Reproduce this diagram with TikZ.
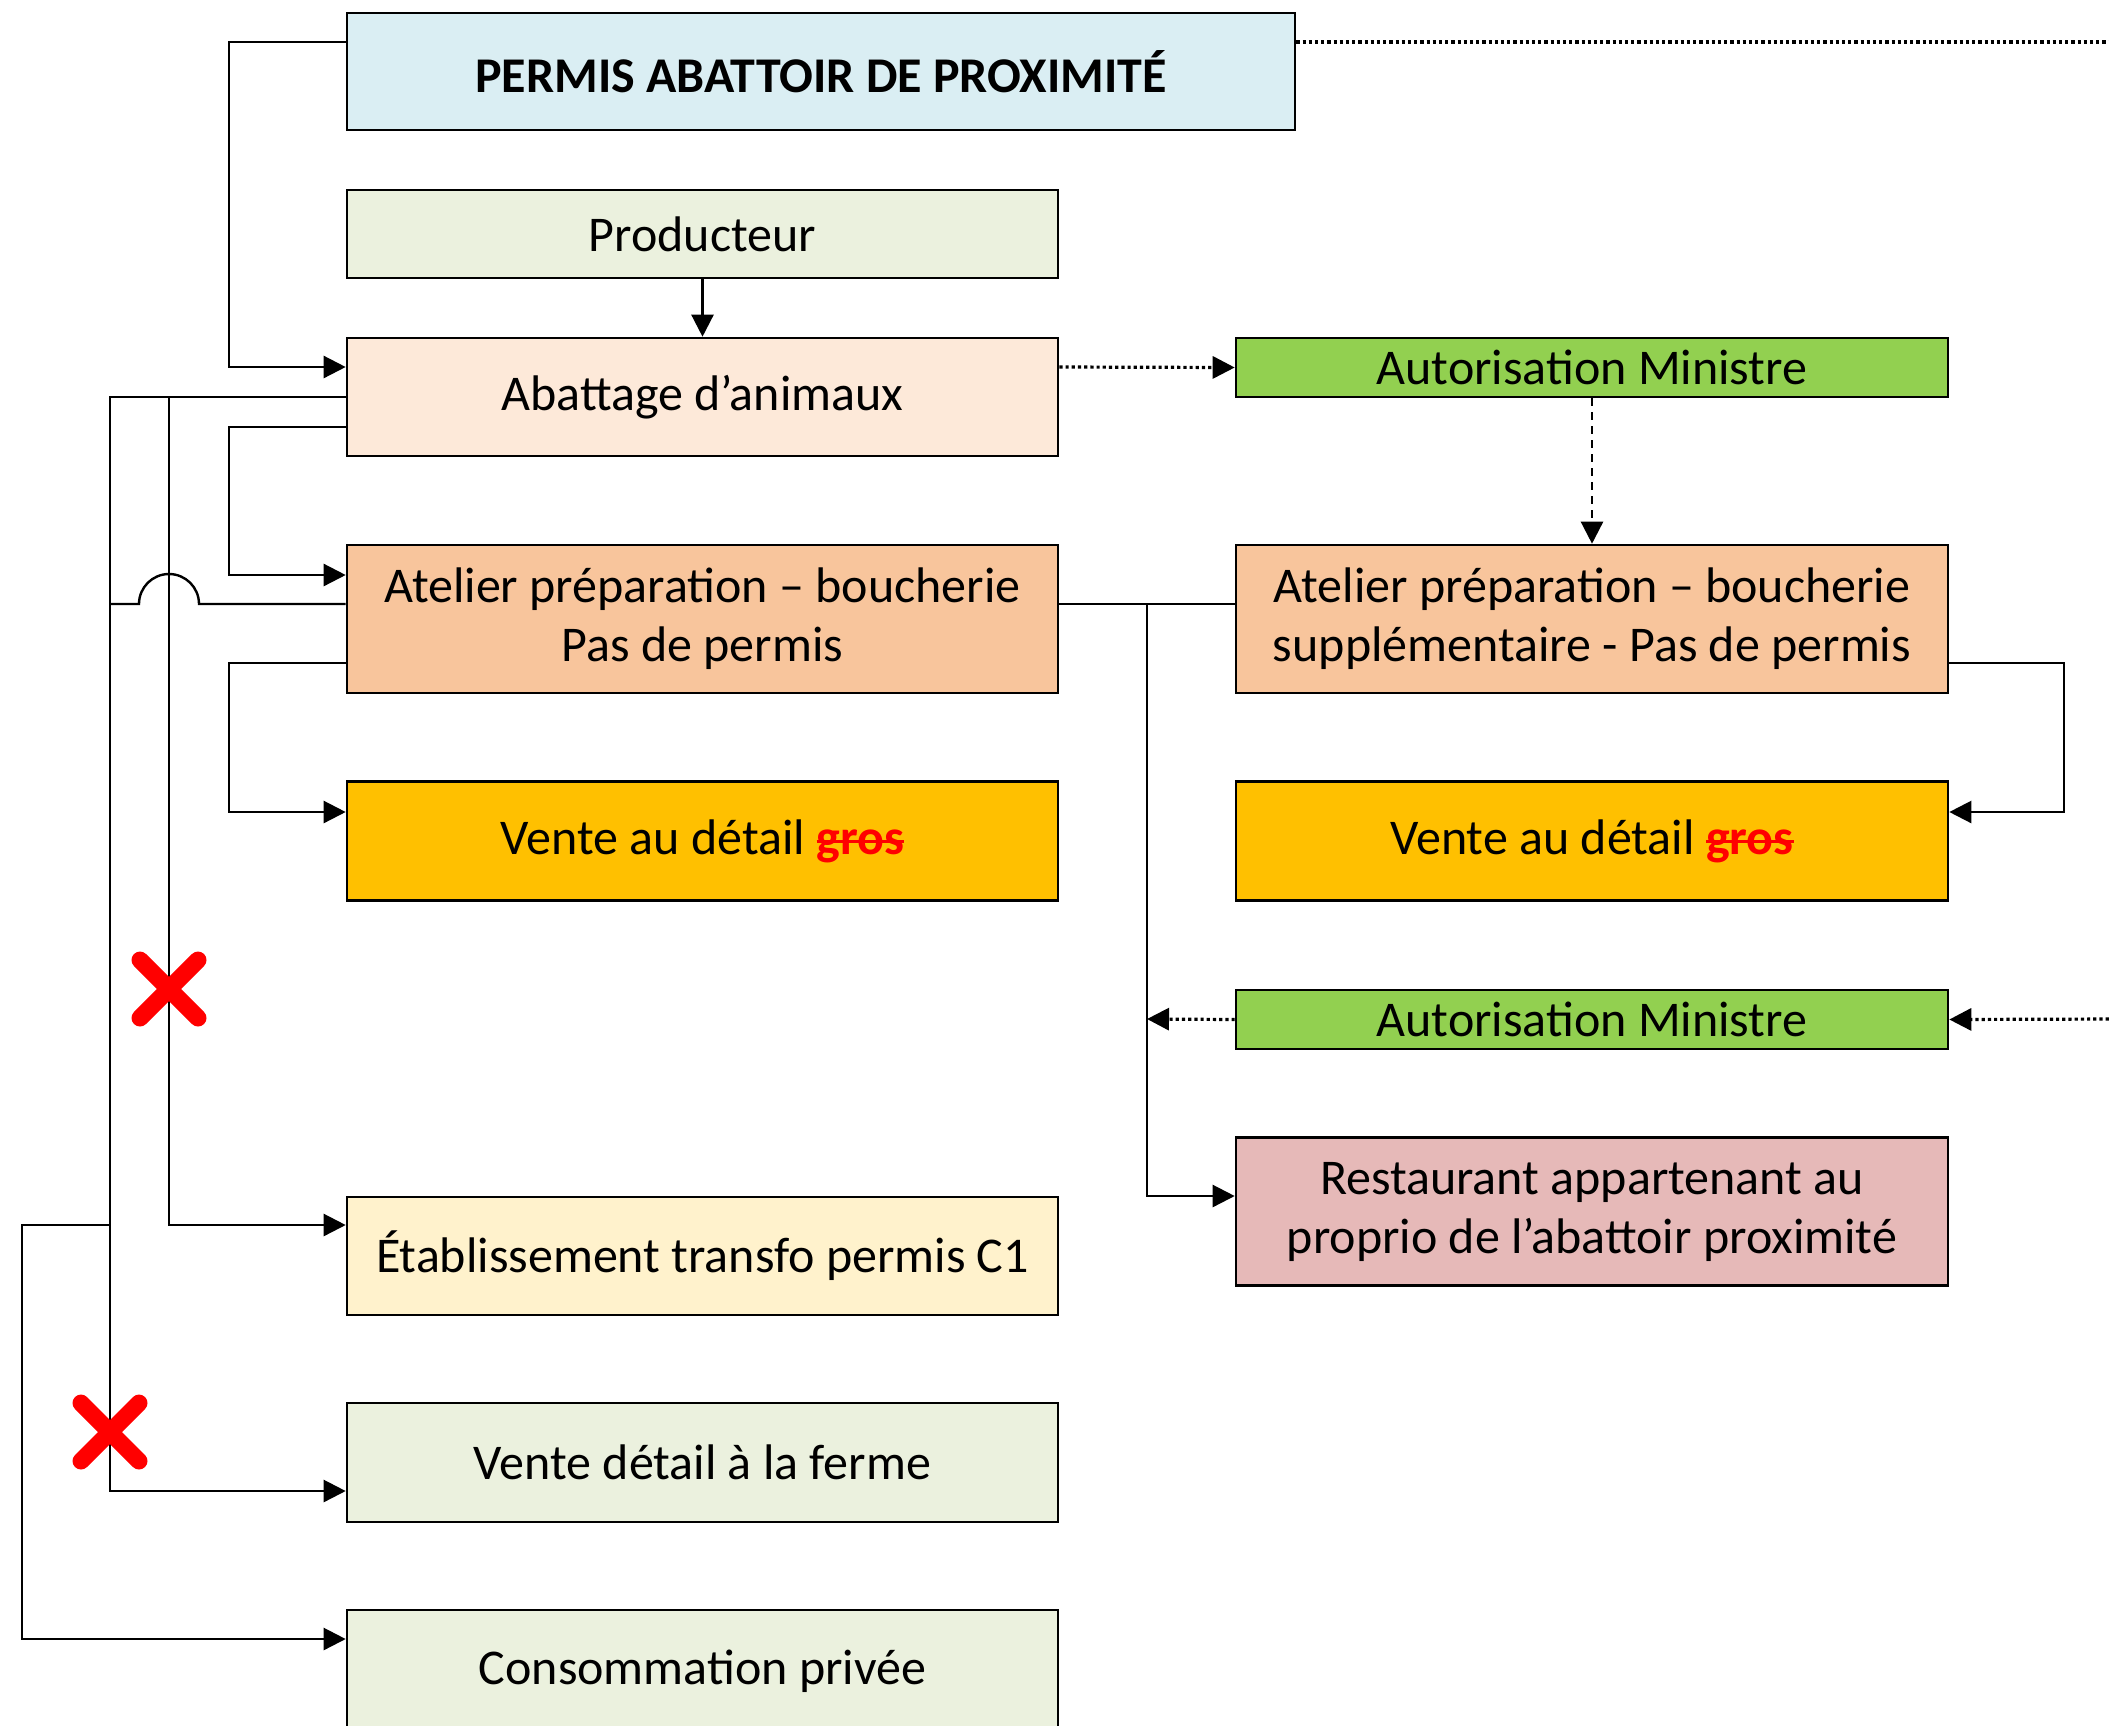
\documentclass[tikz,border=0pt]{standalone}
\usepackage{fontspec}
\setmainfont{Carlito}
\usetikzlibrary{arrows.meta}
\definecolor{cPermis}{HTML}{DAEEF3}
\definecolor{cGreenL}{HTML}{EBF1DE}
\definecolor{cAbat}{HTML}{FDE9D9}
\definecolor{cAtel}{HTML}{F8C59C}
\definecolor{cVente}{HTML}{FFC000}
\definecolor{cAut}{HTML}{92D050}
\definecolor{cEtab}{HTML}{FFF2CC}
\definecolor{cResto}{HTML}{E6B9B8}
\newcommand{\grosbarre}{{\color{red}\bfseries\setbox0\hbox{gros}\rlap{\rule[0.22em]{\wd0}{1.4pt}}\box0}}
\begin{document}
\begin{tikzpicture}[x=0.5pt,y=-0.5pt,
  box/.style={draw, line width=1.3pt, inner sep=0pt, align=center,
    font=\fontsize{25}{29.5}\selectfont, anchor=center},
  lcol/.style={box, minimum width=355.5pt},
  rcol/.style={box, minimum width=356pt},
  conn/.style={line width=1.2pt},
  arr/.style={conn, -{Triangle[length=11pt,width=11pt]}},
  dotl/.style={line width=1.6pt, dash pattern=on 1.6pt off 1.5pt},
  dashl/.style={conn, dash pattern=on 4pt off 3pt},
  xmark/.style={red, line width=8.5pt, line cap=round}]
\useasboundingbox (0,0) rectangle (2109,1725);

% nodes
\node[box, minimum width=474pt, minimum height=58.5pt, fill=cPermis, font=\fontsize{25}{29.5}\selectfont\bfseries] (permis) at (821,71.5) {PERMIS ABATTOIR DE PROXIMITÉ};
\node[lcol, minimum height=44pt, fill=cGreenL] (prod) at (702.5,234) {Producteur};
\node[lcol, minimum height=59pt, fill=cAbat] (abat) at (702.5,397) {Abattage d’animaux};
\node[rcol, minimum height=29.5pt, fill=cAut] (aut1) at (1592,367.5) {Autorisation Ministre};
\node[lcol, minimum height=74pt, fill=cAtel] (atel) at (702.5,619) {Atelier préparation – boucherie\\Pas de permis};
\node[rcol, minimum height=74pt, fill=cAtel] (atel2) at (1592,619) {Atelier préparation – boucherie\\supplémentaire - Pas de permis};
\node[lcol, minimum height=59.5pt, fill=cVente] (vente) at (702.5,841) {Vente au détail \grosbarre};
\node[rcol, minimum height=59.5pt, fill=cVente] (vente2) at (1592,841) {Vente au détail \grosbarre};
\node[rcol, minimum height=29.5pt, fill=cAut] (aut2) at (1592,1019.5) {Autorisation Ministre};
\node[rcol, minimum height=74pt, fill=cResto] (resto) at (1592,1211.5) {Restaurant appartenant au\\proprio de l’abattoir proximité};
\node[lcol, minimum height=59pt, fill=cEtab] (etab) at (702.5,1256) {Établissement transfo permis C1};
\node[lcol, minimum height=59.5pt, fill=cGreenL] (ferme) at (702.5,1462.5) {Vente détail à la ferme};
\node[lcol, minimum height=61pt, fill=cGreenL] (conso) at (702.5,1671) {Consommation privée};

% coordinates
\coordinate (jA) at (169,397);
\coordinate (jB) at (110,1225);
\coordinate (jC) at (1147,604);
\coordinate (jD) at (1147,1019);
\coordinate (edgeTop) at (2115,42);
\coordinate (edgeBot) at (2115,1019);

% left connectors
\draw[arr] (permis.west |- 0,42) -- (229,42) -- (229,367) -- (abat.west |- 0,367);
\draw[arr] (prod.south) -- (abat.north);
\draw[arr] (abat.west |- 0,397) -- (110,397) -- (110,1491) -- (ferme.west |- 0,1491);
\draw[arr] (jA) -- (169,1225) -- (etab.west |- 0,1225);
\draw[arr] (abat.west |- 0,427) -- (229,427) -- (229,575) -- (atel.west |- 0,575);
\draw[conn] (atel.west |- 0,604) -- (199,604) arc[start angle=0, end angle=180, radius=15pt] -- (110,604);
\draw[arr] (jB) -- (22,1225) -- (22,1639) -- (conso.west |- 0,1639);
\draw[arr] (atel.west |- 0,663) -- (229,663) -- (229,812) -- (vente.west |- 0,812);

% right connectors
\draw[arr, dotl] (abat.east |- 0,367) -- (aut1.west);
\draw[arr, dashl] (aut1.south) -- (atel2.north);
\draw[conn] (atel.east |- 0,604) -- (atel2.west |- 0,604);
\draw[arr] (jC) -- (1147,1196) -- (resto.west |- 0,1196);
\draw[arr, dotl] (aut2.west) -- (jD);
\draw[dotl] (permis.east |- 0,42) -- (edgeTop);
\draw[arr, dotl] (edgeBot) -- (aut2.east);
\draw[arr] (atel2.east |- 0,663) -- (2064,663) -- (2064,812) -- (vente2.east |- 0,812);

% red crosses
\draw[xmark] (140,960) -- (198,1018) (198,960) -- (140,1018);
\draw[xmark] (81,1403) -- (139,1461) (139,1403) -- (81,1461);
\end{tikzpicture}
\end{document}
